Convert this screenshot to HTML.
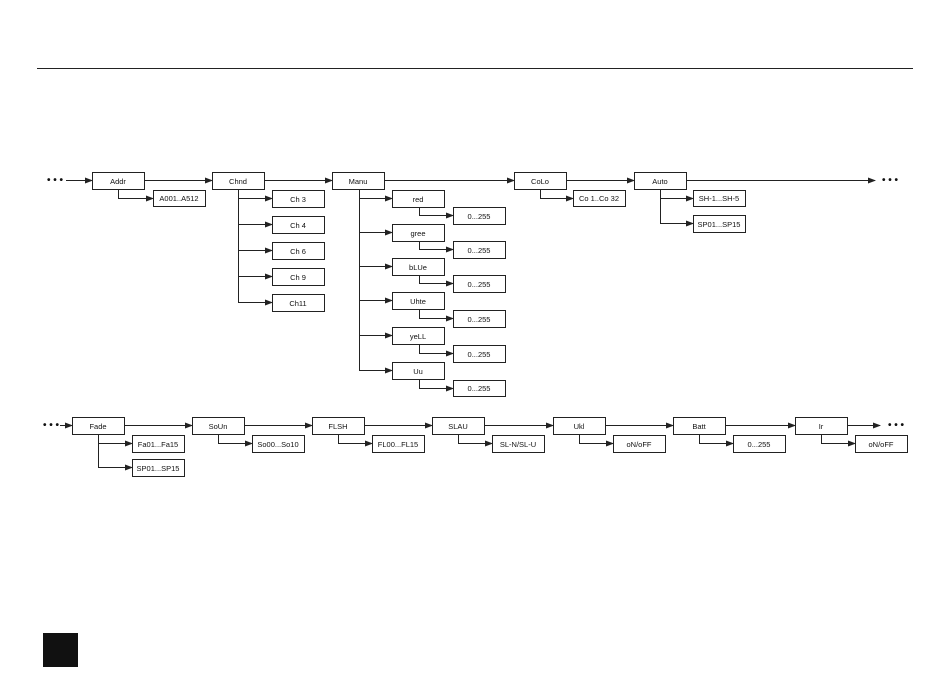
<!DOCTYPE html>
<html><head><meta charset="utf-8"><style>
body{margin:0;background:#fff;width:950px;height:672px;overflow:hidden}
svg text{font-family:"Liberation Sans",sans-serif;font-size:7.5px;fill:#111;text-anchor:middle}
rect{fill:#fff;stroke:#222;stroke-width:1}
line,polyline{stroke:#222;stroke-width:1;fill:none}
</style></head><body>
<svg width="950" height="672" xmlns="http://www.w3.org/2000/svg">
<defs><marker id="a" markerWidth="8" markerHeight="6" refX="7" refY="3" orient="auto" markerUnits="userSpaceOnUse"><path d="M0,0L8,3L0,6z" fill="#222"/></marker></defs>
<line x1="37" y1="68.5" x2="913" y2="68.5"/>
<rect x="43" y="633" width="35" height="34" style="fill:#111;stroke:none"/>
<!-- top row -->
<text x="55" y="183" style="font-size:10px;font-weight:bold">• • •</text>
<text x="890" y="183" style="font-size:10px;font-weight:bold">• • •</text>
<line x1="66" y1="180.5" x2="92" y2="180.5" marker-end="url(#a)"/>
<line x1="144" y1="180.5" x2="212" y2="180.5" marker-end="url(#a)"/>
<line x1="264" y1="180.5" x2="332" y2="180.5" marker-end="url(#a)"/>
<line x1="384" y1="180.5" x2="514" y2="180.5" marker-end="url(#a)"/>
<line x1="566" y1="180.5" x2="634" y2="180.5" marker-end="url(#a)"/>
<line x1="686" y1="180.5" x2="875" y2="180.5" marker-end="url(#a)"/>
<rect x="92.5" y="172.5" width="52" height="17"/><text x="118" y="184">Addr</text>
<rect x="212.5" y="172.5" width="52" height="17"/><text x="238" y="184">Chnd</text>
<rect x="332.5" y="172.5" width="52" height="17"/><text x="358" y="184">Manu</text>
<rect x="514.5" y="172.5" width="52" height="17"/><text x="540" y="184">CoLo</text>
<rect x="634.5" y="172.5" width="52" height="17"/><text x="660" y="184">Auto</text>
<polyline points="118.5,189 118.5,198.5 153,198.5" marker-end="url(#a)"/>
<rect x="153.5" y="190.5" width="52" height="16"/><text x="179" y="201">A001..A512</text>
<!-- Chnd -->
<line x1="238.5" y1="189" x2="238.5" y2="302.5"/>
<line x1="238" y1="198.5" x2="272" y2="198.5" marker-end="url(#a)"/>
<line x1="238" y1="224.5" x2="272" y2="224.5" marker-end="url(#a)"/>
<line x1="238" y1="250.5" x2="272" y2="250.5" marker-end="url(#a)"/>
<line x1="238" y1="276.5" x2="272" y2="276.5" marker-end="url(#a)"/>
<line x1="238" y1="302.5" x2="272" y2="302.5" marker-end="url(#a)"/>
<rect x="272.5" y="190.5" width="52" height="17"/><text x="298" y="202">Ch 3</text>
<rect x="272.5" y="216.5" width="52" height="17"/><text x="298" y="228">Ch 4</text>
<rect x="272.5" y="242.5" width="52" height="17"/><text x="298" y="254">Ch 6</text>
<rect x="272.5" y="268.5" width="52" height="17"/><text x="298" y="280">Ch 9</text>
<rect x="272.5" y="294.5" width="52" height="17"/><text x="298" y="306">Ch11</text>
<!-- Manu -->
<line x1="359.5" y1="189" x2="359.5" y2="371"/>
<line x1="359" y1="198.5" x2="392" y2="198.5" marker-end="url(#a)"/>
<line x1="359" y1="232.5" x2="392" y2="232.5" marker-end="url(#a)"/>
<line x1="359" y1="266.5" x2="392" y2="266.5" marker-end="url(#a)"/>
<line x1="359" y1="300.5" x2="392" y2="300.5" marker-end="url(#a)"/>
<line x1="359" y1="335.5" x2="392" y2="335.5" marker-end="url(#a)"/>
<line x1="359" y1="370.5" x2="392" y2="370.5" marker-end="url(#a)"/>
<rect x="392.5" y="190.5" width="52" height="17"/><text x="418" y="202">red</text>
<rect x="392.5" y="224.5" width="52" height="17"/><text x="418" y="236">gree</text>
<rect x="392.5" y="258.5" width="52" height="17"/><text x="418" y="270">bLUe</text>
<rect x="392.5" y="292.5" width="52" height="17"/><text x="418" y="304">Uhte</text>
<rect x="392.5" y="327.5" width="52" height="17"/><text x="418" y="339">yeLL</text>
<rect x="392.5" y="362.5" width="52" height="17"/><text x="418" y="374">Uu</text>
<polyline points="419.5,207 419.5,215.5 453,215.5" marker-end="url(#a)"/>
<polyline points="419.5,241 419.5,249.5 453,249.5" marker-end="url(#a)"/>
<polyline points="419.5,275 419.5,283.5 453,283.5" marker-end="url(#a)"/>
<polyline points="419.5,309 419.5,318.5 453,318.5" marker-end="url(#a)"/>
<polyline points="419.5,344 419.5,353.5 453,353.5" marker-end="url(#a)"/>
<polyline points="419.5,379 419.5,388.5 453,388.5" marker-end="url(#a)"/>
<rect x="453.5" y="207.5" width="52" height="17"/><text x="479" y="219">0...255</text>
<rect x="453.5" y="241.5" width="52" height="17"/><text x="479" y="253">0...255</text>
<rect x="453.5" y="275.5" width="52" height="17"/><text x="479" y="287">0...255</text>
<rect x="453.5" y="310.5" width="52" height="17"/><text x="479" y="322">0...255</text>
<rect x="453.5" y="345.5" width="52" height="17"/><text x="479" y="357">0...255</text>
<rect x="453.5" y="380.5" width="52" height="16"/><text x="479" y="391">0...255</text>
<!-- CoLo / Auto -->
<polyline points="540.5,189 540.5,198.5 573,198.5" marker-end="url(#a)"/>
<rect x="573.5" y="190.5" width="52" height="16"/><text x="599" y="201">Co 1..Co 32</text>
<line x1="660.5" y1="189" x2="660.5" y2="223.5"/>
<line x1="660" y1="198.5" x2="693" y2="198.5" marker-end="url(#a)"/>
<line x1="660" y1="223.5" x2="693" y2="223.5" marker-end="url(#a)"/>
<rect x="693.5" y="190.5" width="52" height="16"/><text x="719" y="201">SH-1...SH-5</text>
<rect x="693.5" y="215.5" width="52" height="17"/><text x="719" y="227">SP01...SP15</text>
<!-- bottom row -->
<text x="51" y="428" style="font-size:10px;font-weight:bold">• • •</text>
<text x="896" y="428" style="font-size:10px;font-weight:bold">• • •</text>
<line x1="60" y1="425.5" x2="72" y2="425.5" marker-end="url(#a)"/>
<line x1="124" y1="425.5" x2="192" y2="425.5" marker-end="url(#a)"/>
<line x1="244" y1="425.5" x2="312" y2="425.5" marker-end="url(#a)"/>
<line x1="364" y1="425.5" x2="432" y2="425.5" marker-end="url(#a)"/>
<line x1="484" y1="425.5" x2="553" y2="425.5" marker-end="url(#a)"/>
<line x1="605" y1="425.5" x2="673" y2="425.5" marker-end="url(#a)"/>
<line x1="725" y1="425.5" x2="795" y2="425.5" marker-end="url(#a)"/>
<line x1="847" y1="425.5" x2="880" y2="425.5" marker-end="url(#a)"/>
<rect x="72.5" y="417.5" width="52" height="17"/><text x="98" y="429">Fade</text>
<rect x="192.5" y="417.5" width="52" height="17"/><text x="218" y="429">SoUn</text>
<rect x="312.5" y="417.5" width="52" height="17"/><text x="338" y="429">FLSH</text>
<rect x="432.5" y="417.5" width="52" height="17"/><text x="458" y="429">SLAU</text>
<rect x="553.5" y="417.5" width="52" height="17"/><text x="579" y="429">Ukl</text>
<rect x="673.5" y="417.5" width="52" height="17"/><text x="699" y="429">Batt</text>
<rect x="795.5" y="417.5" width="52" height="17"/><text x="821" y="429">Ir</text>
<line x1="98.5" y1="434" x2="98.5" y2="467.5"/>
<line x1="98" y1="443.5" x2="132" y2="443.5" marker-end="url(#a)"/>
<line x1="98" y1="467.5" x2="132" y2="467.5" marker-end="url(#a)"/>
<rect x="132.5" y="435.5" width="52" height="17"/><text x="158" y="447">Fa01...Fa15</text>
<rect x="132.5" y="459.5" width="52" height="17"/><text x="158" y="471">SP01...SP15</text>
<polyline points="218.5,434 218.5,443.5 252,443.5" marker-end="url(#a)"/>
<polyline points="338.5,434 338.5,443.5 372,443.5" marker-end="url(#a)"/>
<polyline points="458.5,434 458.5,443.5 492,443.5" marker-end="url(#a)"/>
<polyline points="579.5,434 579.5,443.5 613,443.5" marker-end="url(#a)"/>
<polyline points="699.5,434 699.5,443.5 733,443.5" marker-end="url(#a)"/>
<polyline points="821.5,434 821.5,443.5 855,443.5" marker-end="url(#a)"/>
<rect x="252.5" y="435.5" width="52" height="17"/><text x="278" y="447">So00...So10</text>
<rect x="372.5" y="435.5" width="52" height="17"/><text x="398" y="447">FL00...FL15</text>
<rect x="492.5" y="435.5" width="52" height="17"/><text x="518" y="447">SL-N/SL-U</text>
<rect x="613.5" y="435.5" width="52" height="17"/><text x="639" y="447">oN/oFF</text>
<rect x="733.5" y="435.5" width="52" height="17"/><text x="759" y="447">0...255</text>
<rect x="855.5" y="435.5" width="52" height="17"/><text x="881" y="447">oN/oFF</text>
</svg>
</body></html>
